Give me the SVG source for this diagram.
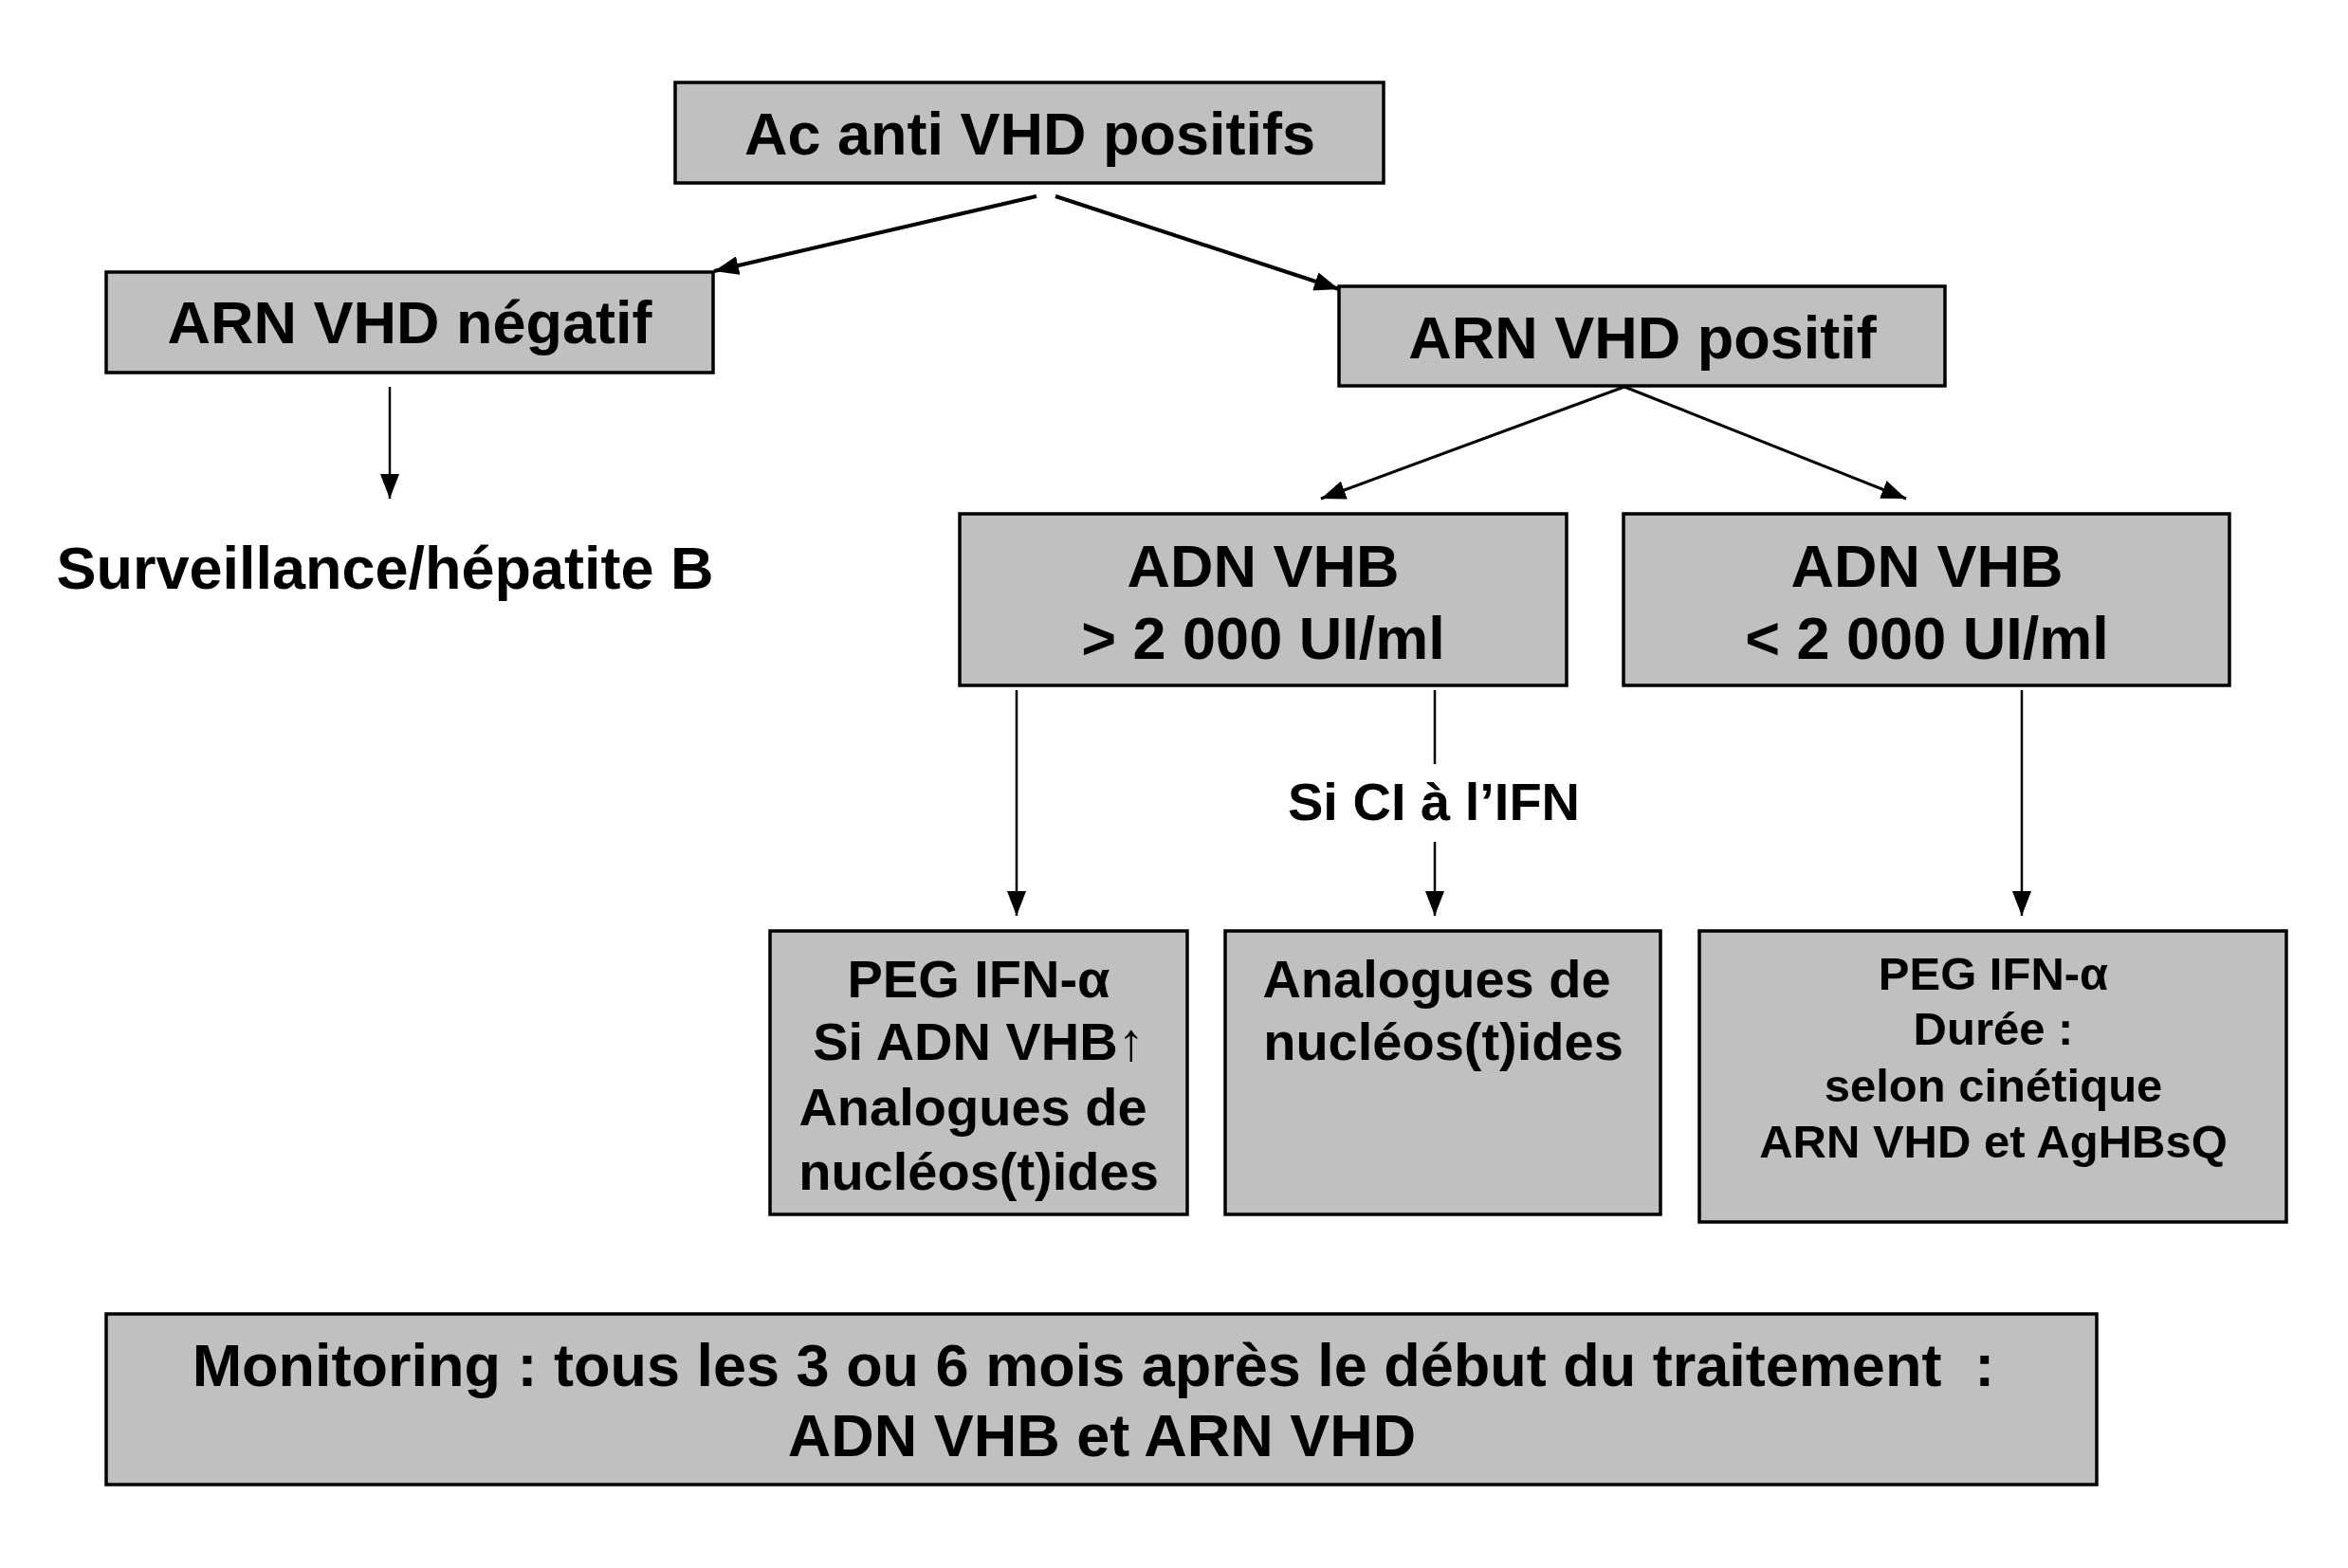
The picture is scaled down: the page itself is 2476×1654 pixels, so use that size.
<svg xmlns="http://www.w3.org/2000/svg" width="2476" height="1654" viewBox="0 0 2476 1654">
<style>
.box{fill:#C0C0C0;stroke:#000;stroke-width:3.5}
.t{font-family:"Liberation Sans",Arial,sans-serif;font-weight:bold;fill:#000;text-anchor:middle}
.big{font-size:63px}
.mid{font-size:56px}
.sm{font-size:49px}
.c{stroke:#000;fill:none}
</style>
<defs>
<marker id="ah" markerUnits="userSpaceOnUse" markerWidth="26" markerHeight="20" refX="26" refY="10" orient="auto">
<path d="M0,0 L26,10 L0,20 z" fill="#000"/>
</marker>
</defs>
<rect width="2476" height="1654" fill="#fff"/>
<g id="connectors">
<line class="c" stroke-width="4" x1="1093" y1="207" x2="753" y2="286" marker-end="url(#ah)"/>
<line class="c" stroke-width="4" x1="1113" y1="207" x2="1412" y2="305" marker-end="url(#ah)"/>
<line class="c" stroke-width="2.5" x1="411" y1="408" x2="411" y2="526" marker-end="url(#ah)"/>
<line class="c" stroke-width="3" x1="1713" y1="408" x2="1393" y2="526" marker-end="url(#ah)"/>
<line class="c" stroke-width="3" x1="1713" y1="408" x2="2010" y2="526" marker-end="url(#ah)"/>
<line class="c" stroke-width="2.5" x1="1072" y1="728" x2="1072" y2="966" marker-end="url(#ah)"/>
<line class="c" stroke-width="2.5" x1="1513" y1="728" x2="1513" y2="806"/>
<line class="c" stroke-width="2.5" x1="1513" y1="888" x2="1513" y2="966" marker-end="url(#ah)"/>
<line class="c" stroke-width="2.5" x1="2132" y1="728" x2="2132" y2="966" marker-end="url(#ah)"/>
<text class="t mid" x="1512" y="865">Si CI à l’IFN</text>
</g>
<g id="n-top">
<rect class="box" x="712" y="87" width="747" height="106"/>
<text class="t big" x="1086" y="163">Ac anti VHD positifs</text>
</g>
<g id="n-neg">
<rect class="box" x="112" y="287" width="640" height="106"/>
<text class="t big" x="432" y="362">ARN VHD négatif</text>
</g>
<g id="n-surv">
<text class="t big" x="406" y="621">Surveillance/hépatite B</text>
</g>
<g id="n-pos">
<rect class="box" x="1412" y="302" width="639" height="105"/>
<text class="t big" x="1732" y="378">ARN VHD positif</text>
</g>
<g id="n-adn-hi">
<rect class="box" x="1012" y="542" width="640" height="181"/>
<text class="t big" x="1332" y="619">ADN VHB</text>
<text class="t big" x="1332" y="695">&gt; 2 000 UI/ml</text>
</g>
<g id="n-adn-lo">
<rect class="box" x="1712" y="542" width="639" height="181"/>
<text class="t big" x="2032" y="619">ADN VHB</text>
<text class="t big" x="2032" y="695">&lt; 2 000 UI/ml</text>
</g>
<g id="n-peg1">
<rect class="box" x="812" y="982" width="440" height="299"/>
<text class="t mid" x="1032" y="1052">PEG IFN-α</text>
<text class="t mid" x="1032" y="1118">Si ADN VHB↑</text>
<text class="t mid" x="1026" y="1187">Analogues de</text>
<text class="t mid" x="1032" y="1255">nucléos(t)ides</text>
</g>
<g id="n-ana">
<rect class="box" x="1292" y="982" width="459" height="299"/>
<text class="t mid" x="1515" y="1052">Analogues de</text>
<text class="t mid" x="1522" y="1118">nucléos(t)ides</text>
</g>
<g id="n-peg2">
<rect class="box" x="1792" y="982" width="619" height="307"/>
<text class="t sm" x="2102" y="1044">PEG IFN-α</text>
<text class="t sm" x="2102" y="1102">Durée :</text>
<text class="t sm" x="2102" y="1162">selon cinétique</text>
<text class="t sm" x="2102" y="1221">ARN VHD et AgHBsQ</text>
</g>
<g id="n-monitor">
<rect class="box" x="112" y="1386" width="2099" height="180"/>
<text class="t big" x="1153" y="1462" xml:space="preserve">Monitoring : tous les 3 ou 6 mois après le début du traitement  :</text>
<text class="t big" x="1162" y="1536">ADN VHB et ARN VHD</text>
</g>
</svg>
